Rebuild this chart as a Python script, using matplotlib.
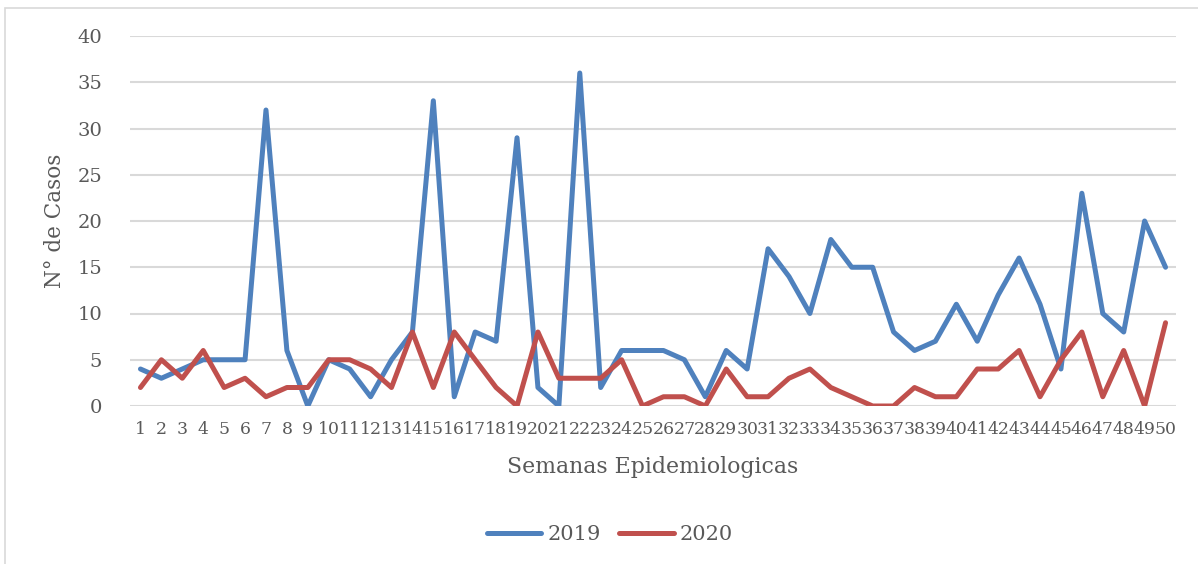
import matplotlib
matplotlib.use("Agg")
import matplotlib.pyplot as plt
from matplotlib.patches import Rectangle

weeks = list(range(1, 51))
casos_2019 = [4, 3, 4, 5, 5, 5, 32, 6, 0, 5, 4, 1, 5, 8, 33, 1, 8, 7, 29, 2,
              0, 36, 2, 6, 6, 6, 5, 1, 6, 4, 17, 14, 10, 18, 15, 15, 8, 6, 7, 11,
              7, 12, 16, 11, 4, 23, 10, 8, 20, 15]
casos_2020 = [2, 5, 3, 6, 2, 3, 1, 2, 2, 5, 5, 4, 2, 8, 2, 8, 5, 2, 0, 8,
              3, 3, 3, 5, 0, 1, 1, 0, 4, 1, 1, 3, 4, 2, 1, 0, 0, 2, 1, 1,
              4, 4, 6, 1, 5, 8, 1, 6, 0, 9]
series_labels = ["2019", "2020"]
y_ticks = [0, 5, 10, 15, 20, 25, 30, 35, 40]

W, H = 1198, 564
fig = plt.figure(figsize=(W / 100, H / 100), dpi=100)
fig.patch.set_facecolor("white")

# chart border
fig.patches.append(Rectangle((5 / W, -0.05), 1.2, (H - 8) / H + 0.05,
                             transform=fig.transFigure, fill=False,
                             edgecolor="#D9D9D9", linewidth=1.2))

ax = fig.add_axes([130 / W, (H - 406) / H, (1176 - 130) / W, (406 - 36) / H])
grey = "#595959"
serif = "DejaVu Serif"

for y in y_ticks:
    ax.axhline(y, color="#D9D9D9", linewidth=1.5, zorder=0)

l1, = ax.plot(weeks, casos_2019, color="#4F81BD", linewidth=3.6,
              solid_joinstyle="round", solid_capstyle="round", label=series_labels[0])
l2, = ax.plot(weeks, casos_2020, color="#C0504D", linewidth=3.6,
              solid_joinstyle="round", solid_capstyle="round", label=series_labels[1])

ax.set_xlim(0.5, 50.5)
ax.set_ylim(0, 40)
ax.set_yticks(y_ticks)
ax.set_yticklabels([str(v) for v in y_ticks], fontsize=14, family=serif, color=grey)
ax.set_xticks(weeks)
ax.set_xticklabels([str(w) for w in weeks], fontsize=12.4, family=serif, color=grey)
ax.tick_params(axis="both", length=0)
ax.tick_params(axis="x", pad=11)
ax.tick_params(axis="y", pad=20)
for s in ax.spines.values():
    s.set_visible(False)

ax.set_ylabel("N° de Casos", fontsize=15.5, family=serif, color=grey, labelpad=8)
ax.set_xlabel("Semanas Epidemiologicas", fontsize=15.8, family=serif, color=grey, labelpad=13)

leg = fig.legend(handles=[l1, l2], labels=series_labels, loc="center",
                 bbox_to_anchor=(610 / W, (H - 535) / H), ncol=2, frameon=False,
                 handlelength=2.6, handletextpad=0.3, columnspacing=0.9,
                 prop={"family": serif, "size": 15})
for t in leg.get_texts():
    t.set_color(grey)

fig.savefig("out.png", dpi=100)
